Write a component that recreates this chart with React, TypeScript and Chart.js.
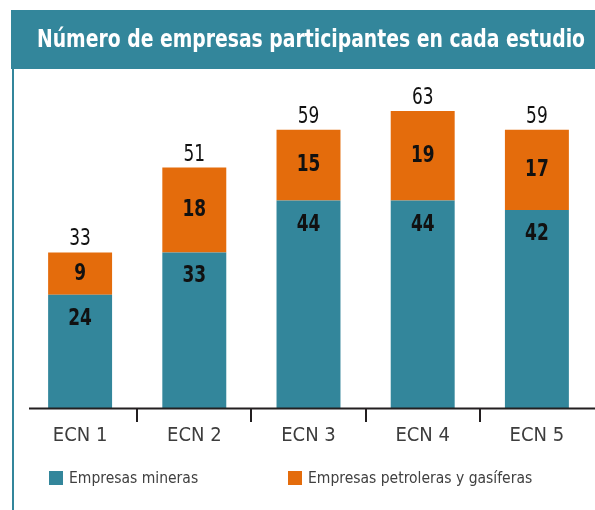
import React, { useEffect, useRef } from 'react';
import { Chart, registerables } from 'chart.js';

Chart.register(...registerables);

const categories = ['ECN 1', 'ECN 2', 'ECN 3', 'ECN 4', 'ECN 5'];
const mineras = [24, 33, 44, 44, 42];
const petroleras = [9, 18, 15, 19, 17];
const totals = [33, 51, 59, 63, 59];
const seriesNames = ['Empresas mineras', 'Empresas petroleras y gasíferas'];
const titleText = 'Número de empresas participantes en cada estudio';

const TEAL = '#33869B';
const ORANGE = '#E46C0C';
const COND = "'DejaVu Sans Condensed', 'Liberation Sans Narrow', sans-serif";

function narrowText(ctx: any, text: string, x: number, y: number, sx: number) {
  ctx.save();
  ctx.translate(x, y);
  ctx.scale(sx, 1);
  ctx.fillText(text, 0, 0);
  ctx.restore();
}

const decor = {
  id: 'decor',
  beforeDraw(chart: any) {
    const ctx = chart.ctx;
    ctx.save();
    ctx.fillStyle = TEAL;
    ctx.fillRect(11, 10, 584, 59);
    ctx.fillRect(12, 69, 2, 441);
    ctx.fillStyle = '#ffffff';
    ctx.font = `bold 25px ${COND}`;
    ctx.textBaseline = 'middle';
    ctx.textAlign = 'left';
    const w = ctx.measureText(titleText).width;
    narrowText(ctx, titleText, 37, 40, 548 / w);
    ctx.restore();
  },
  afterDatasetsDraw(chart: any) {
    const ctx = chart.ctx;
    const m0 = chart.getDatasetMeta(0);
    const m1 = chart.getDatasetMeta(1);
    ctx.save();
    ctx.fillStyle = '#111111';
    ctx.textAlign = 'center';
    ctx.textBaseline = 'middle';
    ctx.font = `bold 23px ${COND}`;
    m0.data.forEach((bar: any, i: number) => {
      narrowText(ctx, String(mineras[i]), bar.x, bar.y + 24, 0.82);
    });
    m1.data.forEach((bar: any, i: number) => {
      narrowText(ctx, String(petroleras[i]), bar.x, (bar.y + bar.base) / 2, 0.82);
    });
    ctx.font = `23px ${COND}`;
    ctx.textBaseline = 'alphabetic';
    m1.data.forEach((bar: any, i: number) => {
      narrowText(ctx, String(totals[i]), bar.x, bar.y - 7, 0.82);
    });
    ctx.restore();
  },
  afterDraw(chart: any) {
    const ctx = chart.ctx;
    const area = chart.chartArea;
    ctx.save();
    ctx.strokeStyle = '#231F20';
    ctx.lineWidth = 2;
    ctx.beginPath();
    ctx.moveTo(29, area.bottom + 0.5);
    ctx.lineTo(595, area.bottom + 0.5);
    ctx.stroke();
    const xs = [49, 288];
    ctx.font = `15.5px ${COND}`;
    ctx.textBaseline = 'middle';
    ctx.textAlign = 'left';
    chart.data.datasets.forEach((ds: any, i: number) => {
      ctx.fillStyle = ds.backgroundColor;
      ctx.fillRect(xs[i], 471, 14, 14);
      ctx.fillStyle = '#404040';
      ctx.fillText(ds.label, xs[i] + 20, 479);
    });
    ctx.restore();
  },
};

export default function App() {
  const ref = useRef<HTMLCanvasElement | null>(null);
  useEffect(() => {
    if (!ref.current) return;
    const chart = new Chart(ref.current, {
      type: 'bar',
      data: {
        labels: categories,
        datasets: [
          { label: seriesNames[0], data: mineras, backgroundColor: TEAL, borderWidth: 0 },
          { label: seriesNames[1], data: petroleras, backgroundColor: ORANGE, borderWidth: 0 },
        ],
      },
      options: {
        animation: false,
        responsive: false,
        datasets: { bar: { categoryPercentage: 1, barPercentage: 0.56 } },
        layout: { padding: { left: 23, right: 1, top: 78, bottom: 0 } },
        plugins: { legend: { display: false }, tooltip: { enabled: false }, title: { display: false } },
        scales: {
          x: {
            stacked: true,
            border: { display: false },
            grid: {
              offset: true,
              drawOnChartArea: false,
              drawTicks: true,
              tickLength: 14,
              lineWidth: 2,
              color: (c: any) => (c.index > 0 && c.index < 5 ? '#231F20' : 'rgba(0,0,0,0)'),
            },
            ticks: { color: '#3d3d3d', padding: 2, font: { family: COND, size: 20 } },
            afterFit: (scale: any) => { scale.height = 102; },
          },
          y: { stacked: true, display: false, min: 0, max: 70 },
        },
      },
      plugins: [decor],
    });
    return () => chart.destroy();
  }, []);
  return (
    <div style={{ position: 'fixed', left: 0, top: 0, width: 595, height: 510, background: '#fff' }}>
      <canvas ref={ref} width={595} height={510} style={{ display: 'block' }} />
    </div>
  );
}
